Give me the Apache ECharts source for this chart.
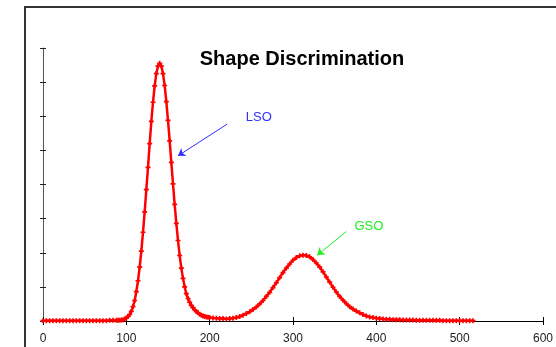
<!DOCTYPE html>
<html>
<head>
<meta charset="utf-8">
<script src="https://cdn.jsdelivr.net/npm/echarts@6/dist/echarts.min.js"></script>
<style>
  html, body { margin: 0; padding: 0; background: #fff; }
  #shapeChart { width: 556px; height: 347px; }
</style>
</head>
<body>
<div id="shapeChart"></div>
<script>
// channel positions
var xs = [
  0, 4, 8, 12, 16, 20, 24, 28, 32, 36, 40, 44, 48, 52, 56, 60, 64, 68, 72, 76, 80, 84, 88,
  90, 92, 94, 96, 98, 100, 102, 104, 106, 108, 110, 112, 114, 116, 118, 120, 122, 124, 126, 128,
  130, 132, 134, 136, 138, 140, 142, 144, 146, 148, 150, 152, 154, 156, 158, 160, 162, 164, 166,
  168, 170, 172, 174, 176, 178, 180, 182, 184, 186, 188, 190, 192, 194, 196, 198,
  200, 204, 208, 212, 216, 220, 224, 228, 232, 236, 240, 244, 248, 252, 256, 260, 264, 268, 272,
  276, 280, 284, 288, 292, 296, 300, 304, 308, 312, 316, 320, 324, 328, 332, 336, 340, 344, 348,
  352, 356, 360, 364, 368, 372, 376, 380, 384, 388, 392, 396, 400, 404, 408, 412,
  416, 420, 424, 428, 432, 436, 440, 444, 448, 452, 456, 460, 464, 468, 472, 476, 480, 484, 488,
  492, 496, 500, 504, 508, 512, 516
];
// counts for each channel
var counts = [
  0.01, 0.01, 0.01, 0.01, 0.01, 0.01, 0.01, 0.01, 0.01, 0.01, 0.01, 0.01, 0.01, 0.01, 0.01, 0.01,
  0.01, 0.01, 0.01, 0.01, 0.02, 0.02, 0.02,
  0.02, 0.02, 0.03, 0.04, 0.06, 0.09, 0.13, 0.19, 0.28, 0.42, 0.6, 0.86, 1.18, 1.58, 2.05, 2.6,
  3.2, 3.85, 4.5, 5.2,
  5.85, 6.41, 6.89, 7.25, 7.47, 7.55, 7.47, 7.25, 6.9, 6.43, 5.88, 5.28, 4.65, 4.02, 3.42, 2.86,
  2.36, 1.92, 1.55,
  1.25, 1.0, 0.8, 0.66, 0.55, 0.46, 0.39, 0.33, 0.28, 0.24, 0.2, 0.17, 0.15, 0.13, 0.12, 0.11,
  0.1, 0.09, 0.08, 0.07, 0.07, 0.06, 0.07, 0.08, 0.1, 0.13, 0.17, 0.22, 0.27, 0.34, 0.41, 0.5,
  0.6, 0.72, 0.84,
  0.98, 1.12, 1.27, 1.42, 1.55, 1.67, 1.78, 1.86, 1.91, 1.93, 1.92, 1.88, 1.8, 1.7, 1.58, 1.44,
  1.29, 1.14, 0.99,
  0.85, 0.72, 0.61, 0.51, 0.42, 0.35, 0.29, 0.24, 0.19, 0.15, 0.12, 0.1, 0.08, 0.07, 0.06, 0.05,
  0.05, 0.04, 0.04, 0.04, 0.03, 0.03, 0.03, 0.03, 0.02, 0.02, 0.02, 0.02, 0.02, 0.02, 0.02, 0.02,
  0.01, 0.01, 0.01,
  0.01, 0.01, 0.01, 0.01, 0.01, 0.01, 0.01
];
var xTicks = [0, 100, 200, 300, 400, 500, 600];
var peakNames = ["LSO", "GSO"];
// label anchor and arrow [start, end] in data units
var labelPos = [[259, 5.98], [391, 2.78]];
var arrowFrom = [[221, 5.77], [364, 2.62]];
var arrowTo = [[162, 4.84], [329, 1.93]];
var peakColors = ["#3030ff", "#22ee22"];

var chart = echarts.init(document.getElementById("shapeChart"));

var points = xs.map(function(x, i) {
  return [x, counts[i]];
});

var labelPoints = peakNames.map(function(name, i) {
  return {
    coord: labelPos[i],
    symbol: "circle",
    symbolSize: 0,
    label: {
      show: true,
      position: "inside",
      formatter: name,
      color: peakColors[i],
      fontSize: 13,
      fontFamily: "Liberation Sans"
    }
  };
});

var arrows = peakNames.map(function(name, i) {
  return [
    { coord: arrowFrom[i], lineStyle: { color: peakColors[i], width: 1, type: "solid" } },
    { coord: arrowTo[i] }
  ];
});

var baseX = {
  type: "value",
  min: 0,
  max: 600,
  interval: 100,
  position: "bottom",
  splitLine: { show: false }
};
var baseY = {
  type: "value",
  min: 0,
  max: 8,
  interval: 1,
  position: "left",
  splitLine: { show: false },
  axisLabel: { show: false }
};

var option = {
  animation: false,
  backgroundColor: "#fff",
  title: {
    text: "Shape Discrimination",
    left: 297,
    top: 44,
    textAlign: "center",
    textStyle: {
      fontFamily: "Liberation Sans",
      fontWeight: "bold",
      fontSize: 20,
      color: "#000"
    }
  },
  graphic: [
    {
      type: "rect",
      shape: { x: 25, y: 7, width: 600, height: 400 },
      style: { fill: "none", stroke: "#333", lineWidth: 2 },
      silent: true
    }
  ],
  grid: { left: 43, right: -1, top: 48, bottom: 26 },
  xAxis: [
    Object.assign({}, baseX, {
      axisLine: { lineStyle: { color: "#000", width: 1 } },
      axisTick: { show: true, length: 4, lineStyle: { color: "#000" } },
      axisLabel: {
        color: "#222",
        fontSize: 12,
        fontFamily: "Liberation Sans",
        margin: 12,
        showMaxLabel: true,
        formatter: function(v) {
          return xTicks.indexOf(v) >= 0 ? String(v) : "";
        }
      }
    }),
    Object.assign({}, baseX, {
      axisLine: { show: false },
      axisTick: { show: true, inside: true, length: 4, lineStyle: { color: "#000" } },
      axisLabel: { show: false }
    })
  ],
  yAxis: [
    Object.assign({}, baseY, {
      axisLine: { show: true, lineStyle: { color: "#555", width: 1 } },
      axisTick: { show: true, length: 3, lineStyle: { color: "#222" } }
    }),
    Object.assign({}, baseY, {
      axisLine: { show: false },
      axisTick: { show: true, inside: true, length: 3, lineStyle: { color: "#222" } }
    })
  ],
  series: [
    {
      type: "line",
      xAxisIndex: 0,
      yAxisIndex: 0,
      data: points,
      smooth: false,
      showAllSymbol: true,
      symbol: "path://M1,0H2V1H3V2H2V3H1V2H0V1H1Z",
      symbolSize: 5,
      lineStyle: { color: "#ff0000", width: 2.5 },
      itemStyle: { color: "#ff0000" },
      markPoint: { silent: true, data: labelPoints },
      markLine: {
        silent: true,
        symbol: ["none", "arrow"],
        symbolSize: 7,
        label: { show: false },
        data: arrows
      }
    }
  ]
};

chart.setOption(option);
</script>
</body>
</html>
